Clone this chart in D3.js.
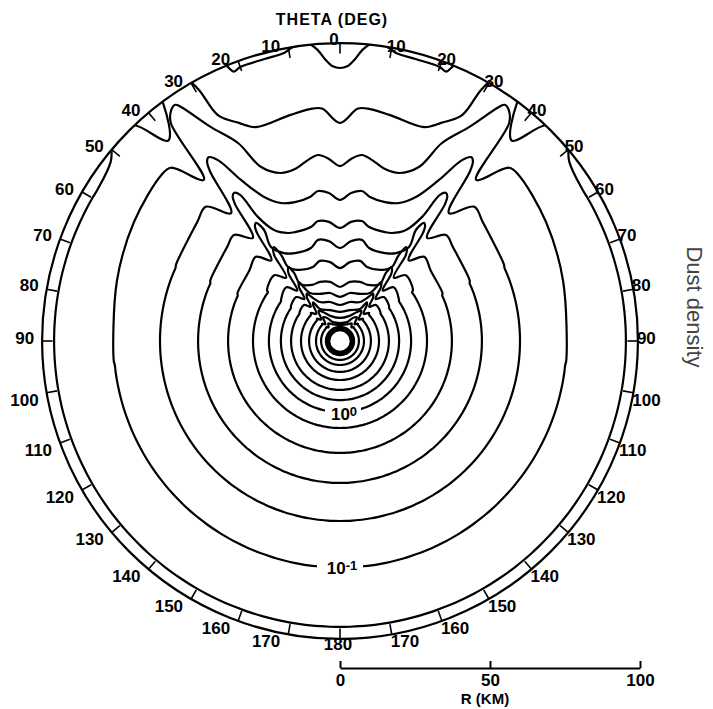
<!DOCTYPE html>
<html><head><meta charset="utf-8">
<script src="https://cdn.jsdelivr.net/npm/d3@7"></script>
<style>body{margin:0;background:#fff}svg{display:block}</style>
</head><body>
<svg id="c" width="713" height="709"></svg>
<script>
// ---------------- data ----------------
// polar angle tick labels (degrees from the top)
const thetaLabels = [0,10,20,30,40,50,60,70,80,90,100,110,120,130,140,150,160,170,180];
// scale bar ticks (km)
const scaleTicks = [0, 50, 100];
// contour levels, outermost first; radius (km) of the circular part of each contour
const levelNames = ["L-1","L0","L1","L2","L3","L4","L5","L6","L7","L8","L9","L10","L11","L12","L13"];
const levelRadiusKm = [120, 95.3, 75.5, 60, 47.3, 37.3, 29, 23.7, 19.7, 16.3, 13, 10.3, 8, 6.3, 4.7];
// wavy part inside the cone, right half: [x km, z km] (z upward from nucleus)
const innerWaveKm = [
  [],
  [[0,72.7],[6,77.5],[10,77.3],[16.7,75.3],[28,71.3],[33.7,72.7],[40.7,75.3],[47,83.7]],
  [[0,58.3],[3.7,60.7],[7.3,62],[10.7,60.3],[15,57.3],[19.7,56],[26.3,58],[34,66],[43,71.3],[53,78]],
  [[0,47],[3.7,49.3],[7.3,50],[10,48],[15,46.3],[19.7,46],[25.3,48],[33,53.7],[40.7,60.3]],
  [[0,37.7],[3.7,39.7],[7.3,40],[9.7,38],[15,36.3],[17.3,36],[22,37],[27.3,41.3],[33.3,48.7]],
  [[0,31],[3.7,33.3],[7.3,33.7],[9.7,31],[15,29.3],[18.7,29.3],[23,31.3],[25.3,37]],
  [[0,24.3],[3.3,26.3],[6.7,26.7],[9,24.7],[14,23.7],[17.3,24.7],[19.5,28.5]],
  [[0,18],[3.3,19.7],[6.7,19.7],[9.3,18.7],[13.3,19],[15.3,22.7]],
  [[0,14.7],[3.3,16],[6.7,15.7],[10,16],[13,19]],
  [[0,12],[3.3,13],[6.7,13],[10.3,15.3]],
  [[0,9.7],[3.3,10.3],[6.7,10.7],[8.3,12.3]],
  [[0,7.7],[3,8.3],[5.7,9.7]],
  [[0,6],[2.3,6.3],[4.3,7.7]],
  [[0,5.3],[2,5.5]],
  [[0,4.5]]
];
// jet-band tongue, notch and shoulder, right half: [theta deg, r km]
const bandTraceKm = [
  [[0,91],[1.5,91.6],[3,94],[4.5,97.5],[6,99.6],[7.5,100.2],[9,99.4],[11,97.8],[15,97.3],[20,97.2],[21.5,96.5],[22.5,99.5],[24,103],[30,112],[40,120]],
  [[30.5,103],[33,125],[35,130],[35.8,112],[36.6,99],[40.6,88],[43.6,99.3],[47,103],[52,97],[58,95.3]],
  [[34.9,96],[36.2,95.3],[37.8,92],[40.2,70.3],[44.3,80.7],[47,81.3],[60,79.3],[75,77],[95,75.7]],
  [[35.6,75.3],[36.6,74.3],[37.5,71],[40.4,56],[45,63.3],[50,62],[65,60.3]],
  [[35.6,60.7],[36.6,60],[37.5,57.5],[40.2,45],[45,50],[50,49],[65,47.7]],
  [[35.4,48.3],[36.5,47.7],[37.5,45.5],[40.4,35.3],[45,39.7],[52,38.3],[65,37.7]],
  [[35.1,38.3],[36.3,37.7],[37.5,36],[40.3,27.7],[45,31],[55,29.7]],
  [[35.1,30],[36.3,29.3],[37.5,28],[40.3,22],[45,25.3],[55,24]],
  [[35,24],[36.3,23.3],[37.5,22.3],[40.3,18.3],[45,20.7],[55,20]],
  [[35,19.3],[36.3,18.8],[37.5,18],[40.5,15],[45,17],[55,16.5]],
  [[35,15.7],[36.5,15.2],[41,12],[46,13.5]],
  [[35,12.3],[36.5,12],[41,9.5],[46,10.7]],
  [[35,9.7],[36.5,9.4],[41,7.4],[46,8.3]],
  [[34,7],[40,5.9],[45,6.5]],
  []
];
// labelled contours
const contourLabelLevel = ["L6", "L1"];
const contourLabelBase = ["10", "10"];
const contourLabelExp = ["0", "-1"];
const nucleusRadiusKm = 3.9;
const boundaryKm = 99.3;

// ---------------- drawing ----------------
const cx = 340, cy = 341;
const svg = d3.select("#c");
const rScale = d3.scaleLinear().domain([0, 100]).range([0, 300]);
const aScale = d3.scaleLinear().domain([0, 180]).range([0, Math.PI]);
const font = "'Liberation Sans', Arial, Helvetica, sans-serif";

function xy(t, r) { const a = aScale(t), R = rScale(r); return [R * Math.sin(a), -R * Math.cos(a)]; }
function toPolar([x, z]) { return [Math.atan2(x, z) * 180 / Math.PI, Math.hypot(x, z)]; }

function half(i) {
  const pts = innerWaveKm[i].map(toPolar).concat(bandTraceKm[i]);
  const R = levelRadiusKm[i];
  const last = pts[pts.length - 1][0];
  for (let t = Math.floor(last / 2) * 2 + 2; t < 180; t += 2) pts.push([t, R]);
  pts.push([180, R]);
  return pts;
}
function ring(i) {
  const h = half(i);
  const mid = h.slice(1, h.length - 1);
  return [h[0], ...mid, h[h.length - 1], ...mid.slice().reverse().map(([t, r]) => [-t, r])];
}

const g = svg.append("g").attr("transform", `translate(${cx},${cy})`);
svg.append("defs").append("clipPath").attr("id", "clipR")
  .append("circle").attr("cx", 0).attr("cy", 0).attr("r", rScale(boundaryKm) - 0.5);

const line = d3.line().curve(d3.curveCatmullRomClosed.alpha(0.5));
const cg = g.append("g").attr("clip-path", "url(#clipR)");
levelNames.forEach((name, i) => {
  cg.append("path")
    .attr("d", line(ring(i).map(([t, r]) => xy(t, r))))
    .attr("fill", "none").attr("stroke", "#000").attr("stroke-width", 2.2)
    .attr("stroke-linejoin", "round");
});

// nucleus
g.append("circle").attr("r", rScale(nucleusRadiusKm)).attr("fill", "#fff")
  .attr("stroke", "#000").attr("stroke-width", 4);

// contour labels
contourLabelLevel.forEach((name, k) => {
  const i = levelNames.indexOf(name);
  const [x, y] = xy(180, levelRadiusKm[i]);
  const w = k === 0 ? 36 : 46;
  g.append("rect").attr("x", x + (k === 0 ? 3 : 0) - w / 2).attr("y", y - 7).attr("width", w).attr("height", 14).attr("fill", "#fff");
  const t = g.append("text").attr("x", x + (k === 0 ? 4 : 2)).attr("y", y + (k === 0 ? 8 : 6))
    .attr("text-anchor", "middle").attr("font-family", font).attr("font-weight", "bold")
    .attr("font-size", 17);
  t.append("tspan").text(contourLabelBase[k]);
  t.append("tspan").attr("dy", -4).attr("font-size", 13).text(contourLabelExp[k]);
});

// outer circle
g.append("circle").attr("r", rScale(boundaryKm)).attr("fill", "none")
  .attr("stroke", "#000").attr("stroke-width", 2.2);

// ticks and angle labels
thetaLabels.forEach(t => {
  const sides = (t === 0 || t === 180) ? [1] : [1, -1];
  sides.forEach(s => {
    const [x1, y1] = xy(s * t, boundaryKm);
    const [x2, y2] = xy(s * t, 95.8);
    g.append("line").attr("x1", x1).attr("y1", y1).attr("x2", x2).attr("y2", y2)
      .attr("stroke", "#000").attr("stroke-width", 1.6);
    const c = Math.cos(aScale(t));
    let tx, ty, anchor;
    if (t === 0) { tx = x1 - 6; ty = y1 + 2; anchor = "middle"; }
    else if (t === 180) { tx = x1 - 2; ty = y1 + 11; anchor = "middle"; }
    else {
      if (s > 0) { tx = x1 - 1 - 4 * Math.max(0, c); anchor = "start"; }
      else { tx = x1 - 8; anchor = "end"; }
      ty = t < 90 ? y1 + 1 + 3 * c : (t === 90 ? y1 + 3 : y1 + 13);
    }
    g.append("text").attr("x", tx).attr("y", ty).attr("text-anchor", anchor)
      .attr("font-family", font).attr("font-weight", "bold").attr("font-size", 17)
      .text(t);
  });
});

// titles
svg.append("text").attr("x", 332).attr("y", 25).attr("text-anchor", "middle")
  .attr("font-family", font).attr("font-weight", "bold").attr("font-size", 16)
  .attr("letter-spacing", 1).text("THETA (DEG)");

// scale bar
const barScale = d3.scaleLinear().domain([0, 100]).range([cx, cx + rScale(100)]);
const axisG = svg.append("g").attr("transform", "translate(0,668)")
  .call(d3.axisBottom(barScale).tickValues(scaleTicks).tickSize(-7).tickSizeOuter(0).tickPadding(6).tickFormat(d3.format("d")));
axisG.select(".domain").attr("stroke-width", 2);
axisG.selectAll(".tick line").attr("stroke-width", 2);
axisG.selectAll(".tick text").attr("font-family", font).attr("font-weight", "bold").attr("font-size", 17).attr("fill", "#000");
svg.append("text").attr("x", 485).attr("y", 704).attr("text-anchor", "middle")
  .attr("font-family", font).attr("font-weight", "bold").attr("font-size", 15).text("R (KM)");

// side title
svg.append("text").attr("transform", "translate(687,307) rotate(90)").attr("text-anchor", "middle")
  .attr("font-family", font).attr("font-size", 22).attr("fill", "#444").text("Dust density");
</script>
</body></html>
